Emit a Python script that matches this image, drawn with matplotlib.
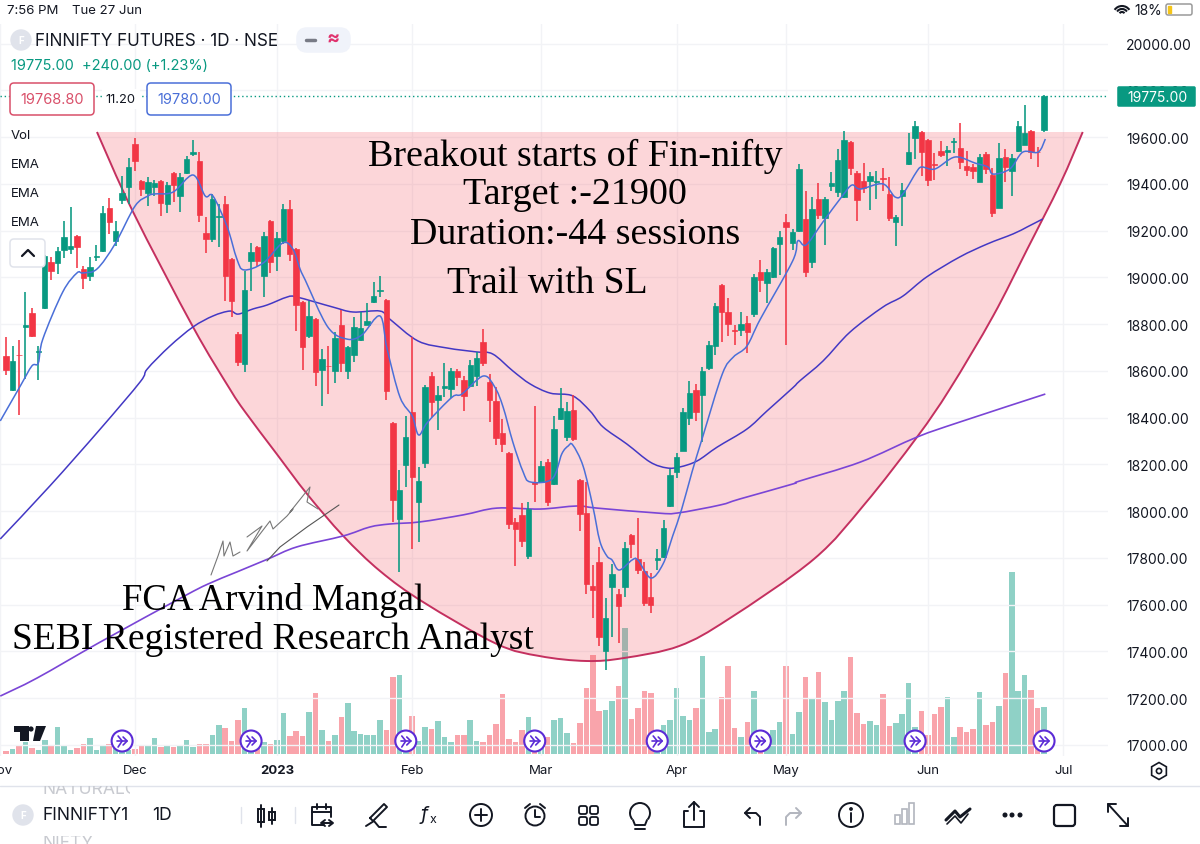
import numpy as np
import matplotlib
matplotlib.use('Agg')
import matplotlib.pyplot as plt
from matplotlib.path import Path
from matplotlib.patches import Circle, FancyBboxPatch, Rectangle, Arc, RegularPolygon, PathPatch

# daily candles
opens = [18664,18518,18670,18788,18848,18681,18869,19066,19062,19117,19121,19177,19036,19006,19087,19113,19297,19156,19331,19387,
         19571,19412,19361,19387,19412,19314,19447,19348,19447,19528,19498,19190,19164,19258,19314,19079,18758,18630,19070,19130,
         19006,19241,19092,19156,19293,19121,18895,18749,18822,18604,18623,18600,18796,18600,18668,18732,18796,18895,18942,18903,
         18377,17966,18197,18424,18039,18206,18578,18475,18527,18523,18600,18561,18535,18578,18724,18553,18471,18334,18249,17954,
         17984,17808,18125,18125,18210,18116,18394,18317,18433,18133,17992,17680,17783,17402,17676,17646,17676,17898,17795,17744,
         17633,17791,17804,18022,18168,18257,18398,18518,18497,18612,18706,18968,18852,18775,18775,18805,18843,19023,18976,19002,
         19143,19237,19147,19198,19250,19066,19335,19254,19391,19365,19344,19579,19447,19412,19412,19408,19425,19357,19237,19348,
         19485,19596,19622,19588,19485,19541,19536,19579,19554,19477,19472,19408,19528,19438,19297,19515,19455,19541,19566,19626,
         19538,19631]
highs = [18745,18706,18732,18938,18869,18706,19096,19087,19130,19241,19301,19181,19049,19087,19139,19305,19340,19241,19434,19511,
         19596,19416,19430,19417,19416,19408,19451,19447,19519,19588,19536,19258,19357,19314,19348,19083,18766,19027,19147,19134,
         19194,19246,19194,19314,19331,19125,18899,18899,18826,18694,18706,18766,18860,18706,18831,18852,18890,18980,19006,18907,
         18381,18176,18407,18745,18189,18540,18595,18535,18634,18612,18608,18578,18647,18681,18779,18587,18531,18394,18253,17971,
         18035,18039,18450,18215,18223,18407,18527,18467,18497,18137,18125,17770,17847,17629,17774,17667,17868,17902,17971,17783,
         17735,17838,17962,18180,18249,18441,18557,18544,18617,18728,18890,18972,18912,18796,18852,18835,19015,19074,19036,19130,
         19198,19271,19207,19485,19370,19344,19404,19344,19451,19549,19626,19583,19455,19489,19451,19455,19468,19430,19267,19404,
         19618,19669,19626,19592,19532,19584,19562,19596,19661,19541,19485,19528,19536,19468,19575,19549,19528,19669,19738,19630,
         19558,19780]
lows = [18583,18514,18411,18565,18745,18561,18865,18989,19015,19083,19100,19040,18950,18985,19070,19109,19186,19134,19314,19314,
        19455,19348,19305,19348,19263,19276,19323,19280,19442,19519,19237,19104,19152,19130,18899,18831,18621,18595,18942,19049,
        18916,19019,19027,19143,19070,18771,18604,18741,18535,18450,18501,18548,18595,18565,18638,18728,18796,18890,18916,18475,
        17954,17740,18103,17838,17868,18185,18403,18347,18488,18484,18535,18428,18531,18535,18621,18381,18283,18253,17924,17765,
        17847,17795,18039,18120,18022,18112,18390,18300,18300,17915,17646,17543,17423,17320,17462,17436,17633,17800,17731,17594,
        17564,17748,17800,18018,18142,18257,18369,18386,18296,18604,18668,18724,18749,18711,18749,18677,18831,18938,18890,18997,
        19010,18711,19117,19194,19002,19040,19250,19139,19370,19344,19340,19438,19241,19361,19288,19335,19370,19241,19134,19220,
        19481,19507,19434,19391,19417,19515,19477,19532,19464,19434,19421,19408,19442,19258,19297,19408,19348,19536,19566,19507,
        19472,19622]
closes = [18604,18642,18668,18796,18749,18685,19092,19027,19113,19173,19134,19130,18997,19045,19092,19276,19237,19198,19361,19472,
          19498,19378,19408,19404,19318,19395,19395,19430,19507,19536,19267,19164,19335,19263,19006,18899,18638,18946,19109,19070,
          19177,19066,19169,19293,19100,18882,18702,18835,18595,18651,18621,18741,18634,18702,18788,18784,18813,18920,18946,18514,
          18048,18090,18317,18146,18129,18531,18467,18497,18535,18600,18574,18493,18625,18655,18634,18475,18313,18287,17945,17924,
          17872,18009,18116,18193,18039,18351,18441,18428,18309,17988,17688,17663,17462,17543,17731,17594,17842,17859,17748,17607,
          17599,17800,17928,18155,18232,18424,18505,18424,18600,18711,18878,18852,18801,18771,18801,18766,19002,18989,19023,19126,
          19173,19216,19194,19464,19023,19293,19267,19335,19404,19502,19588,19468,19331,19382,19434,19412,19421,19254,19258,19374,
          19536,19648,19536,19417,19481,19524,19545,19584,19494,19459,19455,19515,19464,19276,19511,19472,19511,19648,19618,19536,
          19535,19775]
volumes = [3,5,8,12,6,4,14,9,27,9,4,6,10,16,4,8,10,6,5,4,5,9,9,16,7,8,7,8,14,7,10,10,19,29,26,13,34,46,10,8,
           12,10,14,41,18,23,18,42,61,24,13,19,37,51,23,20,19,19,34,24,77,79,10,38,13,27,25,33,17,12,19,19,34,13,12,19,30,60,15,12,
           24,37,10,10,17,34,36,21,11,31,66,99,43,44,53,68,126,35,46,63,61,20,29,34,66,38,34,46,98,22,25,57,88,26,17,32,63,15,20,24,
           32,88,20,42,77,56,82,52,34,53,63,97,41,30,33,29,60,28,31,40,71,27,43,19,40,47,57,17,27,22,25,62,29,32,48,81,182,63,79,64,
           46,47]

# moving averages: candle number, price
ema_fast_x = [-0.9,2.2,4,5,5.7,8.8,11,11.9,14.1,16.9,20,22,23,25.9,29,30.9,32.1,34.3,35.8,36.9,39.9,42.9,44.5,45.6,46.4,49.9,52.9,55.2,58,59.1,
              61.1,63,64,65.4,69.2,70.7,74,75.8,77.1,78.6,80.2,81.3,84.7,86.2,87.2,87.9,89.5,91,92.1,93.2,94,95.1,97.1,98,100,101.9,103.4,104.8,106.4,108.1,
              111.1,112.8,114.9,117,122,122.8,124.1,126.7,129.7,131.2,132.5,136,137.9,139.1,141.3,142.1,144.1,147.2,150.3,152.3,153.1,155.7,157.7,160.1,161.2]
ema_fast = [18386,18535,18621,18634,18736,18938,19019,19019,19036,19143,19305,19348,19357,19365,19438,19348,19348,19216,19079,19032,19062,19147,19121,19036,18989,18788,18736,18754,18835,18694,
            18488,18407,18326,18381,18488,18501,18578,18531,18445,18296,18168,18125,18138,18245,18279,18283,18193,18022,17872,17808,17791,17748,17791,17791,17714,17774,17894,18009,18168,18322,
            18587,18659,18706,18822,19070,19156,19139,19237,19348,19395,19378,19400,19344,19357,19455,19472,19464,19515,19489,19472,19442,19464,19536,19536,19592]
ema_mid_x = [-0.9,6.8,14.6,20.8,21.9,25.4,29,32.1,34.7,36,38.3,40.5,43.6,45.1,50.7,53.8,58,59.5,63.9,68.4,73,75.5,78.6,81.3,84.4,87.9,90.6,92.6,96.3,99.9,
             102.5,104.5,107.2,110.3,114.9,118,122,123.1,126.7,130.9,136,139.1,142.8,147.9,152.2,156.2,158.4,160.8]
ema_mid = [17881,18108,18351,18553,18608,18706,18788,18835,18856,18843,18865,18882,18916,18916,18873,18852,18856,18822,18728,18698,18681,18672,18600,18544,18505,18493,18428,18360,18287,18210,
           18185,18189,18215,18274,18351,18428,18527,18557,18642,18766,18873,18920,19002,19087,19143,19186,19216,19250]
ema_slow_x = [-0.9,4.8,14.6,27.4,31.3,35.8,40.6,45.1,52.3,56.4,59.5,64.2,70.9,76.1,82.8,88.5,91.7,101,104.1,110.7,113.8,122,123.1,132.5,141.3,147.9,161.2]
ema_slow = [17209,17286,17440,17633,17688,17740,17795,17847,17894,17932,17945,17954,17984,18013,18009,18022,18013,17992,17992,18026,18052,18116,18129,18210,18317,18381,18501]

# cup drawing
cup_x = [14.1,19.7,29,34.7,37.1,42,46.7,52.3,58,64.7,76.1,82.8,90,95.9,104.4,112.1,125.3,133.2,141.3,146.4,153.1,158.4,163.5,167]
cup_y = [19622,19280,18788,18523,18424,18244,18073,17894,17744,17611,17432,17380,17359,17372,17423,17539,17795,18031,18317,18523,18835,19121,19400,19622]

month_pos = [-0.9,20,42,63,83,104,121,143,164]
month_labels = ['Nov','Dec','2023','Feb','Mar','Apr','May','Jun','Jul']
price_ticks = list(range(17000,20001,200))
dividend_pos = [18,38,62,82,101,117,141,161]

GREEN = '#089981'
RED = '#f23645'
INK = '#131722'
UIFONT = 'Inter'
plt.rcParams['font.family'] = [UIFONT, 'DejaVu Sans']

def curve(xs, ys, close=False):
    # bezier through the points, so the read-off vertices don't show as kinks
    pts = np.column_stack([xs, ys]).astype(float)
    verts = [pts[0]]
    codes = [Path.MOVETO]
    for k in range(len(pts)-1):
        p0 = pts[max(k-1, 0)]
        p1 = pts[k]
        p2 = pts[k+1]
        p3 = pts[min(k+2, len(pts)-1)]
        verts += [p1 + (p2-p0)/6, p2 - (p3-p1)/6, p2]
        codes += [Path.CURVE4]*3
    if close:
        verts.append(pts[0])
        codes.append(Path.CLOSEPOLY)
    return Path(verts, codes)

fig = plt.figure(figsize=(12, 8.45), dpi=100)
pos = [0, (845-757)/845, 1108/1200, (757-25)/845]

# volume sits under the price pane
vax = fig.add_axes(pos, zorder=0)
ax = fig.add_axes(pos, zorder=1)
ax.patch.set_visible(False)

idx = np.arange(len(opens))
o = np.array(opens)
c = np.array(closes)
colors = [GREEN if c[i] >= o[i] else RED for i in idx]

vax.bar(idx, volumes, width=0.86, color=colors, alpha=0.45, linewidth=0)
vax.set_xlim(-0.94, 170.92)
vax.set_ylim(-2, 730)
vax.axis('off')

ax.set_xlim(-0.94, 170.92)
ax.set_ylim(16952.6, 20084)
ax.grid(True, color='#f2f3f6', lw=1)
ax.set_axisbelow(True)
for s in ax.spines.values():
    s.set_visible(False)
ax.yaxis.tick_right()
ax.set_yticks(price_ticks)
ax.set_yticklabels(['%.2f' % p for p in price_ticks], fontsize=10, color=INK)
ax.set_xticks(month_pos)
ax.set_xticklabels(month_labels, fontsize=9.5, color=INK)
ax.get_xticklabels()[2].set_fontweight('bold')
ax.tick_params(length=0)
ax.tick_params(axis='y', pad=13)
ax.tick_params(axis='x', pad=6)

ax.add_patch(PathPatch(curve(cup_x, cup_y, close=True), fc=RED, alpha=0.2, lw=0, zorder=1))
ax.add_patch(PathPatch(curve(cup_x, cup_y), fc='none', ec='#c4305f', lw=1.4, zorder=2))

ax.add_patch(PathPatch(curve(ema_slow_x, ema_slow), fc='none', ec='#7a45d6', lw=1.2, zorder=3))
ax.add_patch(PathPatch(curve(ema_mid_x, ema_mid), fc='none', ec='#4338c4', lw=1.1, zorder=3))
ax.vlines(idx, lows, highs, colors=colors, lw=1.15, zorder=4)
ax.bar(idx, c-o, bottom=o, width=0.84, color=colors, edgecolor=colors, lw=0.5, zorder=5)
ax.add_patch(PathPatch(curve(ema_fast_x, ema_fast), fc='none', ec='#4a6fd8', lw=1.1, zorder=6))
ax.hlines(closes[-1], -0.94, 170.92, colors=GREEN, lw=1, linestyles=(0, (1, 2)), zorder=3)

# the rest is the app around the chart, in screen pixels
ui = fig.add_axes([0, 0, 1, 1], zorder=5)
ui.set_xlim(0, 1200)
ui.set_ylim(845, 0)
ui.axis('off')

def label(x, y, s, size=10, color=INK, ha='left', **kw):
    return ui.text(x, y, s, fontsize=size, color=color, ha=ha, va='center', **kw)

def line(xs, ys, color=INK, lw=1.4):
    ui.plot(xs, ys, color=color, lw=lw, solid_capstyle='round', solid_joinstyle='round')

def rbox(x, y, w, h, ec, fc='white', r=3, lw=1.1):
    ui.add_patch(FancyBboxPatch((x+r, y+r), w-2*r, h-2*r, boxstyle='round,pad=%d' % r, ec=ec, fc=fc, lw=lw))

# status bar
label(7, 11, '7:56 PM', 9.5)
label(72, 11, 'Tue 27 Jun', 9.5)
label(1134, 11, '18%', 10)
for r in (3, 6, 9):
    ui.add_patch(Arc((1122, 16), 2*r, 2*r, theta1=215, theta2=325, color=INK, lw=1.5))
rbox(1166, 5, 26, 11, '#9a9a9a', r=2)
ui.add_patch(Rectangle((1168, 7), 3, 7, color='#f5c518'))

# header
ui.add_patch(Circle((21, 41), 10, color='#e0e3eb'))
label(21, 41, 'F', 7, 'white', ha='center', fontweight='bold')
label(35, 41, 'FINNIFTY FUTURES · 1D · NSE', 12.3)
rbox(297, 29, 53, 24, '#f0f3fa', '#f0f3fa', r=10)
line([306, 315], [41, 41], '#787b86', 2.5)
label(333, 40, '≈', 14, '#e0336e', ha='center', fontweight='bold')
label(11, 66, '19775.00  +240.00 (+1.23%)', 10.5, GREEN)
rbox(10, 84, 84, 32, '#d9506a', r=4)
label(52, 100, '19768.80', 10.5, '#d9506a', ha='center')
rbox(147, 84, 84, 32, '#4a6fd8', r=4)
label(189, 100, '19780.00', 10.5, '#4a6fd8', ha='center')
ui.add_patch(Rectangle((102, 90), 38, 20, color='white', lw=0))
label(120, 100, '11.20', 9.3, ha='center')

label(11, 136, 'Vol', 9.5)
label(11, 165, 'EMA', 9.5)
label(11, 194, 'EMA', 9.5)
label(11, 223, 'EMA', 9.5)
rbox(10, 240, 35, 28, '#e0e3eb', r=4)
line([22, 28, 34], [257, 251, 257], INK, 1.6)

# last price tag
rbox(1118, 88, 77, 19, GREEN, GREEN, r=1)
label(1157, 97.5, '19775.00', 10, 'white', ha='center')

# handwritten notes on the chart
serif = ['Liberation Serif', 'DejaVu Serif']
ui.text(575, 156, 'Breakout starts of Fin-nifty', fontsize=27.4, family=serif, ha='center', va='center', color='black')
ui.text(575, 195, 'Target :-21900', fontsize=27.4, family=serif, ha='center', va='center', color='black')
ui.text(575, 235, 'Duration:-44 sessions', fontsize=27.4, family=serif, ha='center', va='center', color='black')
ui.text(547, 284, 'Trail with SL', fontsize=27, family=serif, ha='center', va='center', color='black')
ui.text(273, 601, 'FCA Arvind Mangal', fontsize=26.5, family=serif, ha='center', va='center', color='black')
ui.text(273, 640, 'SEBI Registered Research Analyst', fontsize=27, family=serif, ha='center', va='center', color='black')

# signature
line([211, 218, 223, 224, 230, 233, 240], [576, 557, 542, 557, 543, 557, 553], '#777777', 0.8)
line([247, 262, 247, 270, 273, 287, 293, 290, 310, 307, 318], [538, 527, 552, 522, 530, 517, 510, 513, 488, 503, 510], '#777777', 0.8)
line([267, 280, 307, 339], [562, 548, 528, 506], '#555555', 0.8)

# tradingview mark
ui.add_patch(Rectangle((14, 727), 15, 6, color=INK, lw=0))
ui.add_patch(Rectangle((20, 727), 9, 15, color=INK, lw=0))
ui.add_patch(Circle((31, 730), 2.6, color=INK, lw=0))
ui.fill([36, 46, 40, 33], [727, 727, 742, 742], color=INK, lw=0)

# dividend/split markers
for i in dividend_pos:
    px = 6.07 + 6.447*i
    ui.add_patch(Circle((px, 742), 10.5, fc='white', ec='#5b2bd6', lw=1.5))
    line([px-5, px+5], [742, 742], '#5b2bd6', 1.2)
    line([px+1, px+5, px+1], [738, 742, 746], '#5b2bd6', 1.2)
    line([px-4, px, px-4], [737, 742, 748], '#5b2bd6', 1.2)

# settings hexagon
ui.add_patch(RegularPolygon((1159, 772), 6, radius=8.5, fc='none', ec=INK, lw=1.2))
ui.add_patch(Circle((1159, 772), 2.6, fc='none', ec=INK, lw=1.2))

# bottom toolbar, with the neighbouring list rows peeking in
line([0, 1200], [787, 787], '#e0e3eb', 1)
t = label(43, 790, 'NATURALG', 12.6, '#c8cad0', clip_on=True)
t.set_clip_path(Rectangle((0, 787), 130, 8, transform=ui.transData))
t = label(43, 844, 'NIFTY', 12.6, '#c8cad0', clip_on=True)
t.set_clip_path(Rectangle((0, 837), 130, 8, transform=ui.transData))
ui.add_patch(Circle((23, 816), 10, color='#e0e3eb'))
label(23, 816, 'F', 7, 'white', ha='center', fontweight='bold')
label(43, 816, 'FINNIFTY1', 12.6)
label(152, 816, '1D', 12.6)
line([241, 241], [808, 824], '#e0e3eb', 1)
line([295, 295], [808, 824], '#e0e3eb', 1)

# candles icon
line([261, 261], [806, 828])
ui.add_patch(Rectangle((258, 810), 6, 13, fc='none', ec=INK, lw=1.4))
line([272, 272], [809, 825])
ui.add_patch(Rectangle((269, 813), 6, 8, fc='none', ec=INK, lw=1.4))
# calendar
line([324, 312, 312, 331, 331], [826, 826, 808, 808, 818])
line([312, 331], [813, 813])
line([317, 317], [805, 810])
line([326, 326], [805, 810])
line([322, 332], [824, 824])
line([325, 321, 325], [821, 824, 827])
line([329, 333, 329], [821, 824, 827])
# pen
line([370, 384, 387, 373, 370], [819, 805, 808, 822, 819])
line([366, 374, 379, 386], [827, 822, 828, 828])
# fx
label(424, 815, 'f', 14, ha='center', fontstyle='italic')
label(433, 820, 'x', 9, ha='center')
# plus
ui.add_patch(Circle((481, 816), 11, fc='none', ec=INK, lw=1.4))
line([481, 481], [810, 822])
line([475, 487], [816, 816])
# alarm
ui.add_patch(Circle((535, 817), 9.5, fc='none', ec=INK, lw=1.4))
line([535, 535, 540], [811, 818, 818])
line([525, 530], [809, 805])
line([545, 540], [809, 805])
# grid
for gx in (583, 594):
    for gy in (811, 822):
        rbox(gx-4, gy-4, 8, 8, INK, 'none', r=2, lw=1.3)
# bulb
ui.add_patch(Arc((640, 814), 20, 20, theta1=140, theta2=40, color=INK, lw=1.4))
line([633, 635, 645, 647], [821, 826, 826, 821])
line([635, 645], [830, 830])
# share
line([688, 684, 684, 704, 704, 700], [812, 812, 828, 828, 812, 812])
line([694, 694], [821, 803])
line([689, 694, 699], [808, 803, 808])
# undo redo
line([750, 745, 750], [809, 814, 819])
line([745, 756, 760, 760], [814, 814, 818, 826])
line([796, 801, 796], [809, 814, 819], '#b2b5be')
line([801, 790, 786, 786], [814, 814, 818, 826], '#b2b5be')
# info
ui.add_patch(Circle((851, 816), 12, fc='none', ec=INK, lw=1.4))
ui.add_patch(Circle((851, 810), 1.2, color=INK))
line([851, 851], [814, 823])
# bars
for bx, bh in ((897, 9), (904, 15), (911, 21)):
    ui.add_patch(Rectangle((bx-2, 825-bh), 5, bh, fc='none', ec='#b2b5be', lw=1.2))
# zigzag
line([946, 955, 960, 970], [821, 812, 818, 810], INK, 2.2)
line([947, 955, 961, 968], [825, 817, 824, 815], INK, 1.2)
# dots
for dx in (1005, 1012, 1020):
    ui.add_patch(Circle((dx, 816), 1.8, color=INK))
# square
rbox(1054, 806, 21, 21, INK, 'none', r=3, lw=1.6)
# expand
line([1108, 1128], [805, 827])
line([1108, 1108, 1116], [813, 805, 805])
line([1120, 1128, 1128], [827, 827, 819])

fig.savefig('out.png', dpi=100)
